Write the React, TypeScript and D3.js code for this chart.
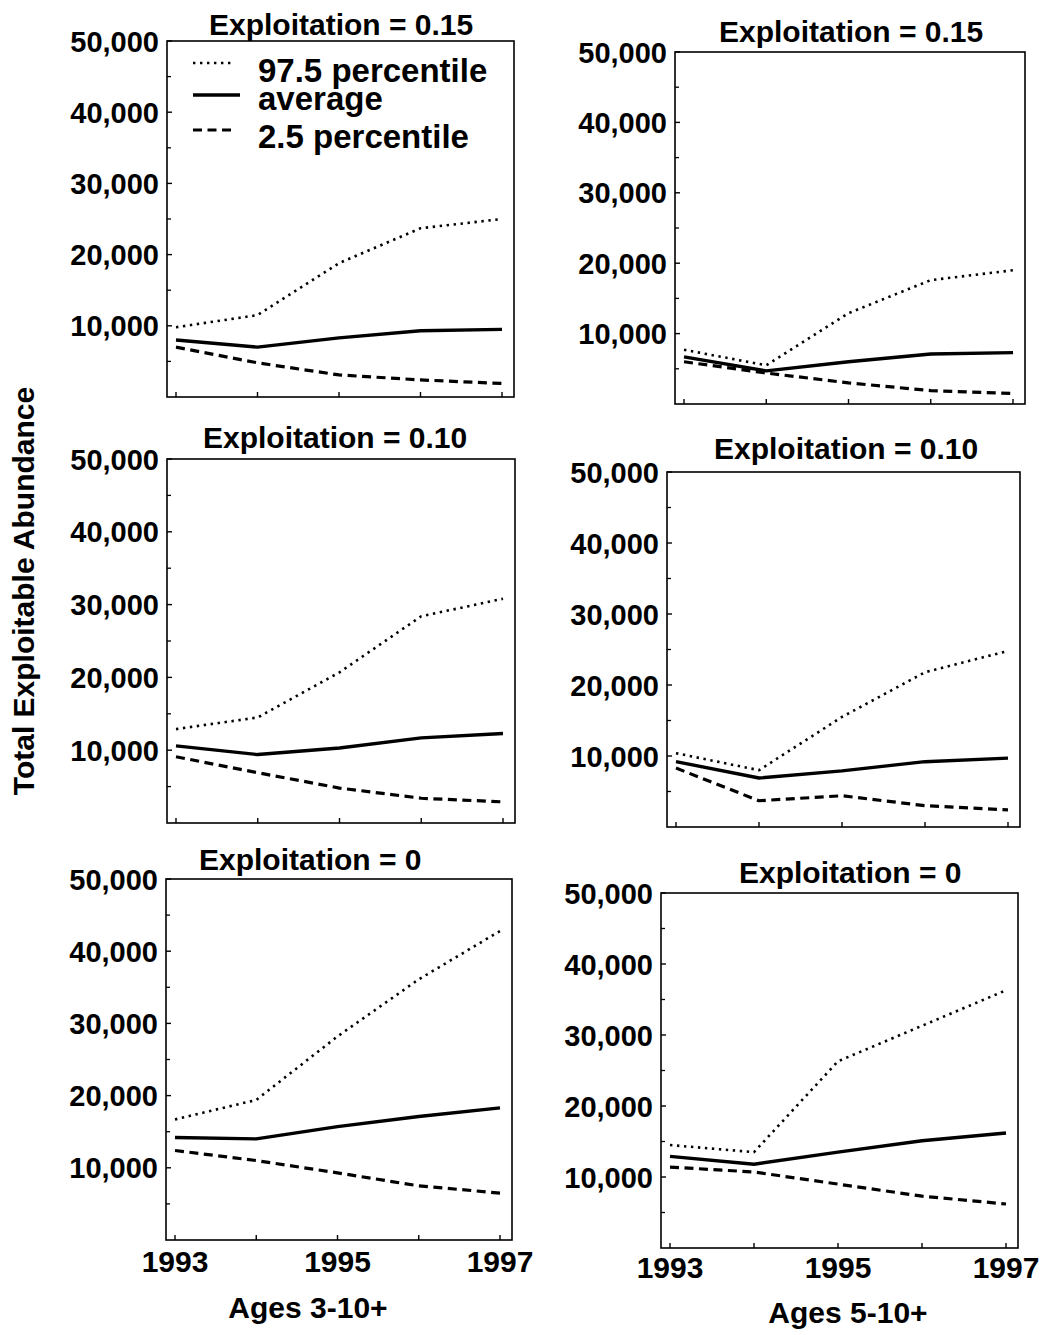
import React from "react";
import * as d3 from "d3";

// Years simulated and axis ticks
const years = [1993, 1994, 1995, 1996, 1997];
const yMajorTicks = [10000, 20000, 30000, 40000, 50000];
const yMinorTicks = [5000, 15000, 25000, 35000, 45000];
const xTickLabels = [1993, 1995, 1997];

// Ages 3-10+, exploitation 0.15
const upperA3E15 = [9800, 11500, 18800, 23700, 25000];
const meanA3E15 = [8000, 7000, 8300, 9300, 9500];
const lowerA3E15 = [7000, 4800, 3100, 2400, 1900];

// Ages 5-10+, exploitation 0.15
const upperA5E15 = [7700, 5500, 12900, 17600, 19000];
const meanA5E15 = [6700, 4700, 6000, 7100, 7300];
const lowerA5E15 = [6000, 4400, 3000, 1900, 1500];

// Ages 3-10+, exploitation 0.10
const upperA3E10 = [12900, 14500, 20700, 28400, 30800];
const meanA3E10 = [10600, 9400, 10300, 11700, 12300];
const lowerA3E10 = [9100, 6900, 4800, 3400, 2900];

// Ages 5-10+, exploitation 0.10
const upperA5E10 = [10400, 8000, 15500, 21800, 24800];
const meanA5E10 = [9200, 6900, 7900, 9200, 9700];
const lowerA5E10 = [8300, 3700, 4400, 3000, 2400];

// Ages 3-10+, exploitation 0
const upperA3E0 = [16700, 19400, 28200, 36100, 42800];
const meanA3E0 = [14200, 14000, 15700, 17100, 18300];
const lowerA3E0 = [12400, 11000, 9300, 7500, 6500];

// Ages 5-10+, exploitation 0
const upperA5E0 = [14500, 13500, 26300, 31300, 36300];
const meanA5E0 = [12900, 11800, 13500, 15100, 16200];
const lowerA5E0 = [11400, 10700, 9000, 7300, 6200];

const FONT = "'Liberation Sans', Arial, Helvetica, sans-serif";

type Panel = {
  title: string;
  box: [number, number, number, number];
  titleX: number;
  titleY: number;
  upper: number[];
  mean: number[];
  lower: number[];
  xLabelY?: number;
  legend?: boolean;
};

const panels: Panel[] = [
  { title: "Exploitation = 0.15", box: [167, 41, 514, 397], titleX: 209, titleY: 35,
    upper: upperA3E15, mean: meanA3E15, lower: lowerA3E15, legend: true },
  { title: "Exploitation = 0.15", box: [675, 52, 1025, 404], titleX: 719, titleY: 42,
    upper: upperA5E15, mean: meanA5E15, lower: lowerA5E15 },
  { title: "Exploitation = 0.10", box: [167, 459, 515, 823], titleX: 203, titleY: 448,
    upper: upperA3E10, mean: meanA3E10, lower: lowerA3E10 },
  { title: "Exploitation = 0.10", box: [667, 472, 1020, 827], titleX: 714, titleY: 459,
    upper: upperA5E10, mean: meanA5E10, lower: lowerA5E10 },
  { title: "Exploitation = 0", box: [166, 879, 512, 1240], titleX: 199, titleY: 870,
    upper: upperA3E0, mean: meanA3E0, lower: lowerA3E0, xLabelY: 1272 },
  { title: "Exploitation = 0", box: [661, 893, 1018, 1248], titleX: 739, titleY: 883,
    upper: upperA5E0, mean: meanA5E0, lower: lowerA5E0, xLabelY: 1278 },
];

const styles = {
  upper: { width: 2.6, dash: "2.4 4.6", cap: "butt" },
  mean: { width: 3.4, dash: "none", cap: "butt" },
  lower: { width: 3.2, dash: "9 5.5", cap: "butt" },
};

const fmt = d3.format(",");

function PanelView({ p }: { p: Panel }) {
  const [x0, y0, x1, y1] = p.box;
  const x = d3.scaleLinear().domain([1993, 1997]).range([x0 + 9, x1 - 12]);
  const y = d3.scaleLinear().domain([0, 50000]).range([y1, y0]);
  const line = d3
    .line<number>()
    .x((_, i) => x(years[i]))
    .y((v) => y(v));

  return (
    <g>
      <text x={p.titleX} y={p.titleY} fontSize={30} fontWeight="bold" fontFamily={FONT}>
        {p.title}
      </text>
      <rect x={x0} y={y0} width={x1 - x0} height={y1 - y0} fill="none" stroke="#000" strokeWidth={1.6} />
      {yMajorTicks.map((t) => (
        <g key={"ym" + t}>
          <line x1={x0} x2={x0 + 5} y1={y(t)} y2={y(t)} stroke="#000" strokeWidth={1.4} />
          <text x={x0 - 8} y={y(t) + 10.5} textAnchor="end" fontSize={29} fontWeight="bold" fontFamily={FONT}>
            {fmt(t)}
          </text>
        </g>
      ))}
      {yMinorTicks.map((t) => (
        <line key={"yn" + t} x1={x0} x2={x0 + 4} y1={y(t)} y2={y(t)} stroke="#000" strokeWidth={1.3} />
      ))}
      {years.map((yr) => (
        <line key={"xt" + yr} x1={x(yr)} x2={x(yr)} y1={y1} y2={y1 - 5} stroke="#000" strokeWidth={1.4} />
      ))}
      {p.xLabelY !== undefined &&
        xTickLabels.map((yr) => (
          <text key={"xl" + yr} x={x(yr)} y={p.xLabelY} textAnchor="middle" fontSize={30} fontWeight="bold" fontFamily={FONT}>
            {yr}
          </text>
        ))}
      {(["upper", "mean", "lower"] as const).map((k) => (
        <path
          key={k}
          d={line(p[k]) || ""}
          fill="none"
          stroke="#000"
          strokeWidth={styles[k].width}
          strokeDasharray={styles[k].dash}
          strokeLinejoin="round"
        />
      ))}
      {p.legend && (
        <g fontFamily={FONT} fontWeight="bold" fontSize={33}>
          <line x1={193} x2={235} y1={63} y2={63} stroke="#000" strokeWidth={styles.upper.width} strokeDasharray={styles.upper.dash} />
          <line x1={193} x2={240} y1={95} y2={95} stroke="#000" strokeWidth={styles.mean.width} />
          <line x1={193} x2={235} y1={130} y2={130} stroke="#000" strokeWidth={styles.lower.width} strokeDasharray={styles.lower.dash} />
          <text x={258} y={82}>97.5 percentile</text>
          <text x={258} y={110}>average</text>
          <text x={258} y={148}>2.5 percentile</text>
        </g>
      )}
    </g>
  );
}

export default function App() {
  return (
    <svg
      width={1047}
      height={1335}
      style={{ position: "absolute", left: 0, top: 0, background: "#fff" }}
    >
      <rect width={1047} height={1335} fill="#fff" />
      {panels.map((p, i) => (
        <PanelView key={i} p={p} />
      ))}
      <text
        transform="translate(34,591) rotate(-90)"
        textAnchor="middle"
        fontSize={30}
        fontWeight="bold"
        fontFamily={FONT}
      >
        Total Exploitable Abundance
      </text>
      <text x={308} y={1318} textAnchor="middle" fontSize={30} fontWeight="bold" fontFamily={FONT}>
        Ages 3-10+
      </text>
      <text x={848} y={1323} textAnchor="middle" fontSize={30} fontWeight="bold" fontFamily={FONT}>
        Ages 5-10+
      </text>
    </svg>
  );
}
